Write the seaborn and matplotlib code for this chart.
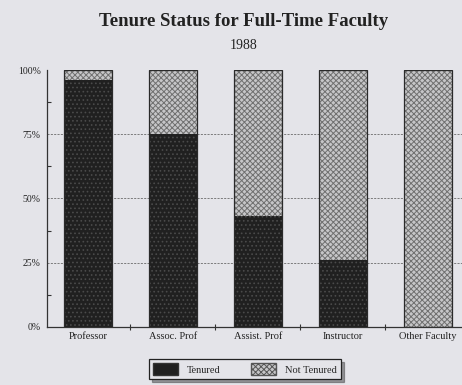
import matplotlib
matplotlib.use("Agg")
import matplotlib.pyplot as plt
import seaborn as sns
import pandas as pd
from matplotlib.patches import Patch
from matplotlib.ticker import MultipleLocator, FuncFormatter

# Faculty tenure shares (percent), 1988
ranks = ["Professor", "Assoc. Prof", "Assist. Prof", "Instructor", "Other Faculty"]
tenured = [96, 75, 43, 26, 0]
not_tenured = [4, 25, 57, 74, 100]

df = pd.DataFrame({
    "rank": ranks,
    "tenured": tenured,
    "total": [t + n for t, n in zip(tenured, not_tenured)],
})

sns.set_theme(style="white")
plt.rcParams["font.family"] = ["Liberation Serif", "DejaVu Serif"]
plt.rcParams["hatch.linewidth"] = 0.7

paper = "#e4e4e9"
dark = "#202020"
light = "#c6c6c8"

fig = plt.figure(figsize=(4.62, 3.85), dpi=100, facecolor=paper)
ax = fig.add_axes([0.102, 0.151, 0.898, 0.667], facecolor=paper)

# dashed reference lines behind the bars
for v in (25, 50, 75):
    ax.axhline(v, color="#6a6a6a", lw=0.6, ls=(0, (2.5, 1.5)), zorder=0)

# stacked bars: full height (not tenured on top), tenured drawn over it
sns.barplot(data=df, x="rank", y="total", color=light, width=0.56,
            edgecolor="#707070", linewidth=0, hatch="xxxxxx",
            saturation=1, ax=ax, zorder=2)
sns.barplot(data=df, x="rank", y="tenured", color=dark, width=0.56,
            edgecolor="#4a4a4a", linewidth=0, hatch="....",
            saturation=1, ax=ax, zorder=3)
# outlines
sns.barplot(data=df, x="rank", y="total", fill=False, width=0.56,
            edgecolor="#2a2a2a", linewidth=0.9, ax=ax, zorder=4)

ax.set_xlim(-0.48, 4.4)
ax.set_ylim(0, 100)
ax.set_xlabel("")
ax.set_ylabel("")

for side in ("top", "right"):
    ax.spines[side].set_visible(False)
for side in ("left", "bottom"):
    ax.spines[side].set_color("#333333")
    ax.spines[side].set_linewidth(0.9)

ax.yaxis.set_major_locator(MultipleLocator(25))
ax.yaxis.set_minor_locator(MultipleLocator(12.5))
ax.yaxis.set_major_formatter(FuncFormatter(lambda v, p: f"{int(v)}%"))
ax.tick_params(axis="y", which="major", direction="inout", length=7,
               width=0.9, color="#333333", labelsize=7, pad=1,
               labelcolor="#222222")
ax.tick_params(axis="y", which="minor", direction="in", length=3,
               width=0.8, color="#333333", left=True)
ax.set_xticks(range(len(ranks)))
ax.set_xticklabels(ranks)
ax.set_xticks([0.5, 1.5, 2.5, 3.5], minor=True)
ax.tick_params(axis="x", which="major", length=0, labelsize=7.5, pad=4,
               colors="#222222")
ax.tick_params(axis="x", which="minor", direction="inout", length=5,
               width=0.8, color="#333333", bottom=True)

fig.text(0.527, 0.943, "Tenure Status for Full-Time Faculty", ha="center",
         va="center", fontsize=13.5, fontweight="bold", color="#222222")
fig.text(0.527, 0.882, "1988", ha="center", va="center", fontsize=10,
         color="#222222")

handles = [
    Patch(facecolor=dark, edgecolor="#333333", label="Tenured"),
    Patch(facecolor=light, edgecolor="#555555", hatch="xxxxxx",
          label="Not Tenured"),
]
leg = fig.legend(handles=handles, loc="center", bbox_to_anchor=(0.53, 0.041),
                 ncol=2, fontsize=7.5, frameon=True, fancybox=False,
                 shadow=True, edgecolor="#222222", facecolor=paper,
                 handlelength=2.4, handleheight=1.4, columnspacing=3.0,
                 borderpad=0.4)
leg.get_frame().set_linewidth(0.9)

fig.savefig("out.png", dpi=100, facecolor=paper)
